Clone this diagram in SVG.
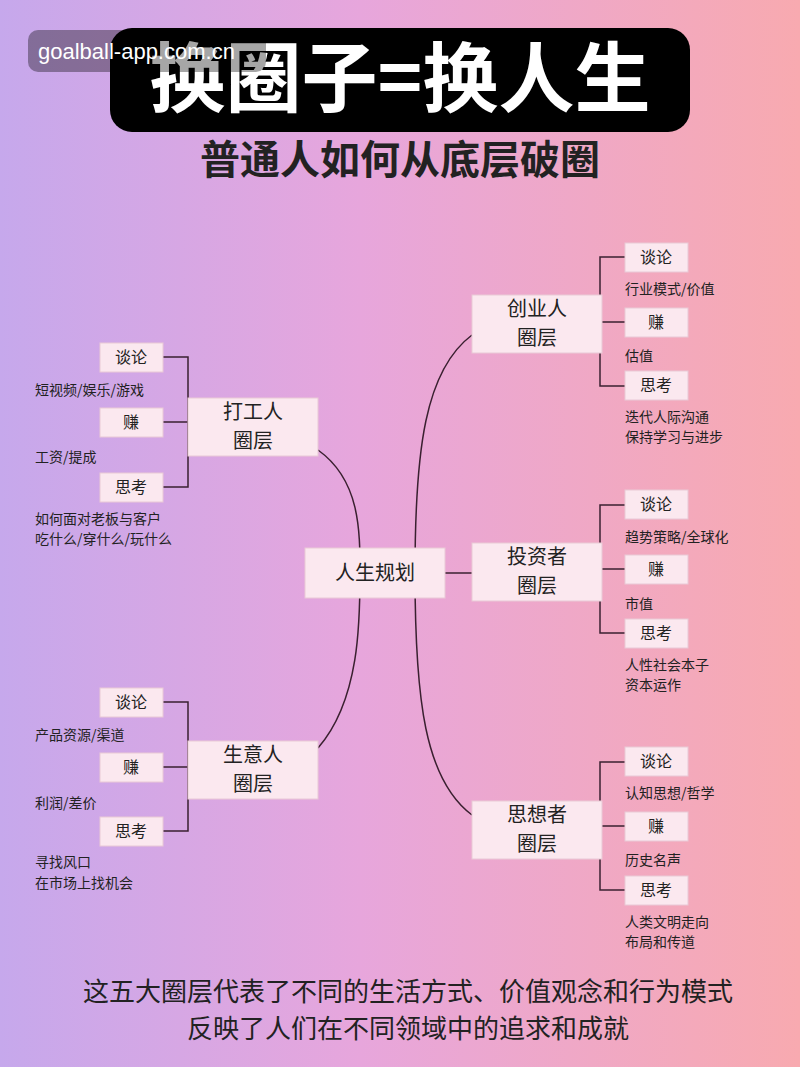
<svg xmlns="http://www.w3.org/2000/svg" width="800" height="1067" viewBox="0 0 800 1067">
<defs>
<linearGradient id="bg" x1="0" y1="0" x2="1" y2="0">
<stop offset="0" stop-color="#c6a8ec"/><stop offset="0.45" stop-color="#e7a6dc"/><stop offset="1" stop-color="#f8aab0"/>
</linearGradient>
<style>
text{font-family:"Noto Sans CJK SC","Liberation Sans",sans-serif;fill:#222}
.n{fill:#fbe8ef;stroke:#e9c9d6;stroke-width:1}
.nt{font-size:20px;text-anchor:middle}
.st{font-size:16px;text-anchor:middle}
.lb{font-size:14px}
.c{fill:none;stroke:#3a2030;stroke-width:1.5}
</style>
</defs>
<rect width="800" height="1067" fill="url(#bg)"/>
<rect x="110" y="28" width="580" height="104" rx="22" fill="#000"/>
<text x="400" y="106" font-size="76" font-weight="bold" text-anchor="middle" style="fill:#fff">换圈子=换人生</text>
<rect x="28" y="30" width="238" height="42" rx="10" fill="#000" opacity="0.35"/>
<text x="38" y="59" font-size="22" style="fill:#fff;font-family:'Liberation Sans',sans-serif">goalball-app.com.cn</text>
<text x="400" y="174" font-size="40" font-weight="bold" text-anchor="middle">普通人如何从底层破圈</text>
<g id="connectors">
<path class="c" d="M318,450 C360,480 360,530 360,573 C360,620 360,700 318,748"/>
<path class="c" d="M445,573 L472,573"/>
<path class="c" d="M472,335 C425,370 415,450 415,573 C415,700 425,780 472,815"/>
<path class="c" d="M163,357 H188 V487 H163 M163,422 H188"/>
<path class="c" d="M163,702 H188 V831 H163 M163,767 H188"/>
<path class="c" d="M625,257 H600 V386 H625 M625,322 H600"/>
<path class="c" d="M625,505 H600 V633 H625 M625,569 H600"/>
<path class="c" d="M625,762 H600 V890 H625 M625,826 H600"/>
</g>
<g id="center"><rect class="n" x="305" y="548" width="140" height="50"/><text class="nt" x="375" y="580">人生规划</text></g>
<g id="dagong"><rect class="n" x="188" y="398" width="130" height="58"/><text class="nt" x="253" y="419">打工人</text><text class="nt" x="253" y="448">圈层</text>
<rect class="n" x="100" y="343" width="63" height="29"/><text class="st" x="131" y="363">谈论</text>
<rect class="n" x="100" y="408" width="63" height="29"/><text class="st" x="131" y="428">赚</text>
<rect class="n" x="100" y="473" width="63" height="29"/><text class="st" x="131" y="493">思考</text>
<text class="lb" x="35" y="395">短视频/娱乐/游戏</text><text class="lb" x="35" y="462">工资/提成</text>
<text class="lb" x="35" y="524">如何面对老板与客户</text><text class="lb" x="35" y="544">吃什么/穿什么/玩什么</text></g>
<g id="shengyi"><rect class="n" x="188" y="741" width="130" height="58"/><text class="nt" x="253" y="762">生意人</text><text class="nt" x="253" y="791">圈层</text>
<rect class="n" x="100" y="688" width="63" height="29"/><text class="st" x="131" y="708">谈论</text>
<rect class="n" x="100" y="753" width="63" height="29"/><text class="st" x="131" y="773">赚</text>
<rect class="n" x="100" y="817" width="63" height="29"/><text class="st" x="131" y="837">思考</text>
<text class="lb" x="35" y="740">产品资源/渠道</text><text class="lb" x="35" y="808">利润/差价</text>
<text class="lb" x="35" y="867">寻找风口</text><text class="lb" x="35" y="888">在市场上找机会</text></g>
<g id="chuangye"><rect class="n" x="472" y="295" width="130" height="58"/><text class="nt" x="537" y="316">创业人</text><text class="nt" x="537" y="345">圈层</text>
<rect class="n" x="625" y="243" width="63" height="29"/><text class="st" x="656" y="263">谈论</text>
<rect class="n" x="625" y="308" width="63" height="29"/><text class="st" x="656" y="328">赚</text>
<rect class="n" x="625" y="371" width="63" height="29"/><text class="st" x="656" y="391">思考</text>
<text class="lb" x="625" y="294">行业模式/价值</text><text class="lb" x="625" y="361">估值</text>
<text class="lb" x="625" y="422">迭代人际沟通</text><text class="lb" x="625" y="442">保持学习与进步</text></g>
<g id="touzi"><rect class="n" x="472" y="543" width="130" height="58"/><text class="nt" x="537" y="564">投资者</text><text class="nt" x="537" y="593">圈层</text>
<rect class="n" x="625" y="490" width="63" height="29"/><text class="st" x="656" y="510">谈论</text>
<rect class="n" x="625" y="555" width="63" height="29"/><text class="st" x="656" y="575">赚</text>
<rect class="n" x="625" y="619" width="63" height="29"/><text class="st" x="656" y="639">思考</text>
<text class="lb" x="625" y="542">趋势策略/全球化</text><text class="lb" x="625" y="609">市值</text>
<text class="lb" x="625" y="670">人性社会本子</text><text class="lb" x="625" y="690">资本运作</text></g>
<g id="sixiang"><rect class="n" x="472" y="801" width="130" height="58"/><text class="nt" x="537" y="822">思想者</text><text class="nt" x="537" y="851">圈层</text>
<rect class="n" x="625" y="747" width="63" height="29"/><text class="st" x="656" y="767">谈论</text>
<rect class="n" x="625" y="812" width="63" height="29"/><text class="st" x="656" y="832">赚</text>
<rect class="n" x="625" y="876" width="63" height="29"/><text class="st" x="656" y="896">思考</text>
<text class="lb" x="625" y="798">认知思想/哲学</text><text class="lb" x="625" y="865">历史名声</text>
<text class="lb" x="625" y="927">人类文明走向</text><text class="lb" x="625" y="947">布局和传道</text></g>
<text x="408" y="1001" font-size="26" text-anchor="middle">这五大圈层代表了不同的生活方式、价值观念和行为模式</text>
<text x="408" y="1038" font-size="26" text-anchor="middle">反映了人们在不同领域中的追求和成就</text>
</svg>
